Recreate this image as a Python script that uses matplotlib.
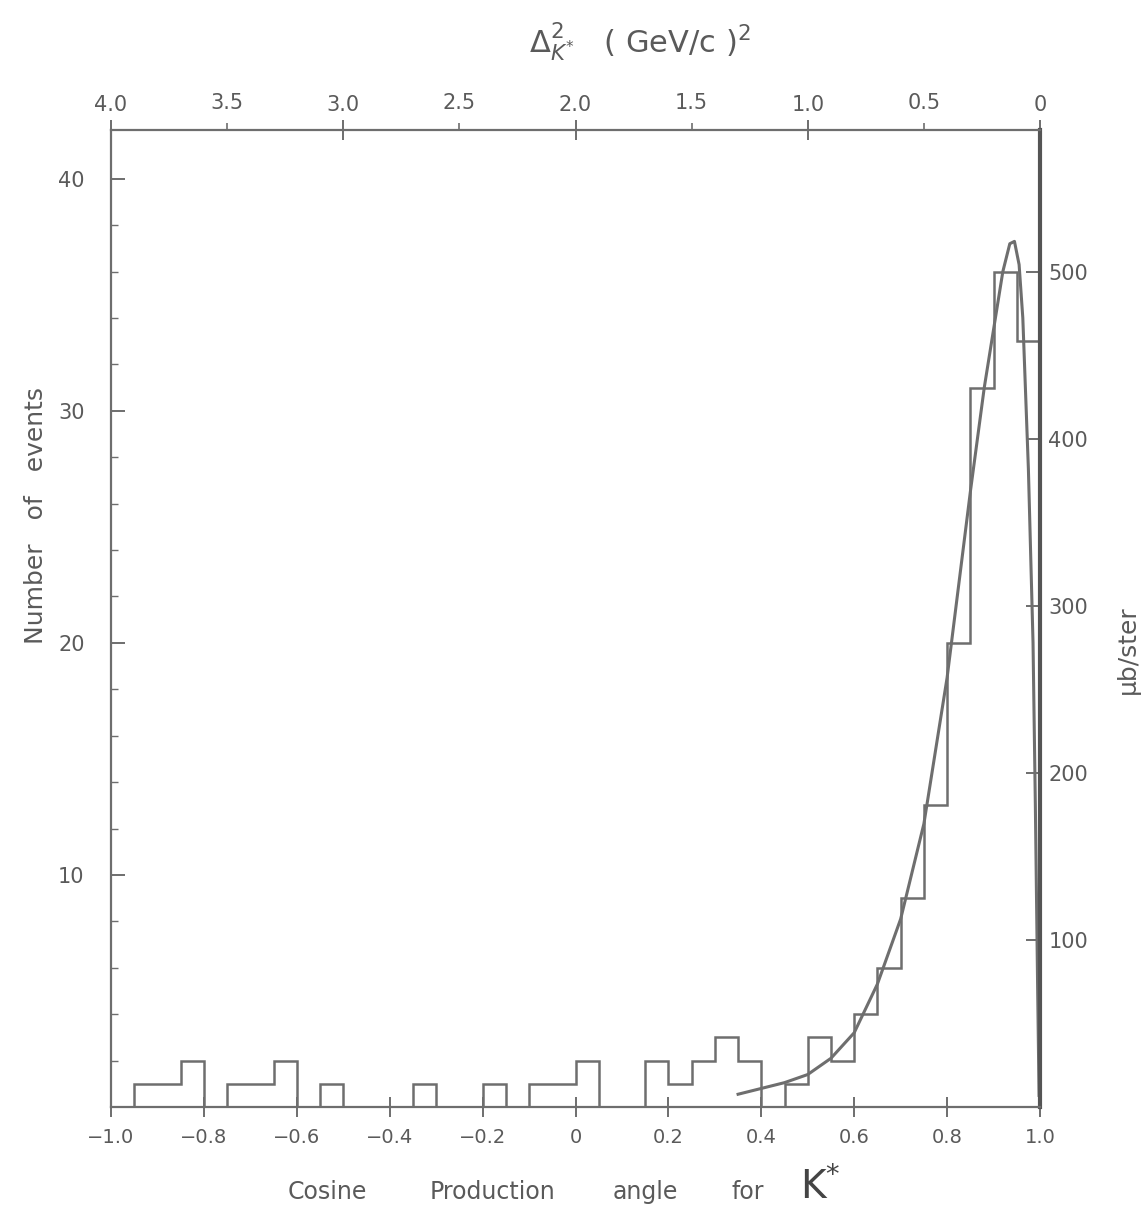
import numpy as np
import matplotlib.pyplot as plt

# K* production angle histogram (events per 0.05 bin in cos theta)
bin_edges = np.linspace(-1.0, 1.0, 41)
counts = [0, 1, 1, 2, 0, 1, 1, 2, 0, 1,
          0, 0, 0, 1, 0, 0, 1, 0, 1, 1,
          2, 0, 0, 2, 1, 2, 3, 2, 0, 1,
          3, 2, 4, 6, 9, 13, 20, 31, 36, 33]

# fitted curve
fit_cos = [0.35, 0.40, 0.45, 0.50, 0.55, 0.60, 0.65, 0.70, 0.75, 0.80, 0.85,
           0.88, 0.90, 0.92, 0.935, 0.945, 0.955, 0.963, 0.975, 0.985, 0.99,
           0.995, 0.998]
fit_events = [0.55, 0.8, 1.05, 1.4, 2.1, 3.2, 5.3, 8.1, 12.2, 18.5, 26.5,
              31.0, 33.5, 36.0, 37.2, 37.3, 36.3, 34.0, 27.5, 20.0, 13.0,
              5.0, 0.5]

x_ticks = [-1.0, -0.8, -0.6, -0.4, -0.2, 0.0, 0.2, 0.4, 0.6, 0.8, 1.0]
x_labels = ["\u22121.0", "\u22120.8", "\u22120.6", "\u22120.4", "\u22120.2", "0",
            "0.2", "0.4", "0.6", "0.8", "1.0"]
y_ticks = [10, 20, 30, 40]
top_major = [4.0, 3.0, 2.0, 1.0, 0.0]
top_major_labels = ["4.0", "3.0", "2.0", "1.0", "0"]
top_minor = [3.5, 2.5, 1.5, 0.5]
top_minor_labels = ["3.5", "2.5", "1.5", "0.5"]
right_ticks = [100, 200, 300, 400, 500]
mub_per_event = 13.9

# words of the bottom title and their centres (px)
title_words = ["Cosine", "Production", "angle", "for"]
title_word_x = [327, 492, 645, 748]

ink = "#6e6e6e"
text_col = "#5a5a5a"
W, H = 1145, 1213


def fx(px):
    return px / W


def fy(py):
    return 1 - py / H


fig = plt.figure(figsize=(W / 100, H / 100), dpi=100)
ax = fig.add_axes([fx(111), fy(1107), fx(1040) - fx(111), fy(130) - fy(1107)])

ax.stairs(counts, bin_edges, color=ink, lw=1.8, baseline=0)
ax.plot(fit_cos, fit_events, color=ink, lw=2.2)

ax.set_xlim(-1.0, 1.0)
ax.set_ylim(0, 42.1)

for s in ["left", "top", "bottom"]:
    ax.spines[s].set_color(ink)
    ax.spines[s].set_linewidth(1.6)
ax.spines["right"].set_color("#555555")
ax.spines["right"].set_linewidth(3.0)

ax.set_xticks(x_ticks)
ax.set_xticklabels(x_labels)
ax.tick_params(axis="x", direction="inout", length=14, width=1.4, color=ink,
               labelsize=14, labelcolor=text_col, pad=8)
ax.set_yticks(y_ticks)
ax.set_yticklabels([str(v) for v in y_ticks])
ax.set_yticks(np.arange(2, 42, 2), minor=True)
ax.tick_params(axis="y", which="major", direction="in", length=10, width=1.4,
               color=ink, labelsize=15, labelcolor=text_col, pad=19)
ax.tick_params(axis="y", which="minor", direction="in", length=5, width=1.0,
               color=ink)

# top axis: momentum transfer
top = ax.secondary_xaxis("top", functions=(lambda c: 2 * (1 - c),
                                           lambda d: 1 - d / 2))
top.set_xticks(top_major)
top.set_xticklabels(top_major_labels)
top.set_xticks(top_minor, minor=True)
top.set_xticklabels(top_minor_labels, minor=True)
top.tick_params(which="major", direction="inout", length=14, width=1.4,
                color=ink, labelsize=15, labelcolor=text_col, pad=4)
top.tick_params(which="minor", direction="out", length=5, width=1.2,
                color=ink, labelsize=15, labelcolor=text_col, pad=7)
top.spines["top"].set_visible(False)

# right axis: cross section
right = ax.secondary_yaxis("right", functions=(lambda y: y * mub_per_event,
                                               lambda m: m / mub_per_event))
right.set_yticks(right_ticks)
right.set_yticklabels([str(v) for v in right_ticks])
right.tick_params(direction="in", length=10, width=1.4, color=ink,
                  labelsize=15, labelcolor=text_col, pad=6)
right.spines["right"].set_visible(False)

fig.text(fx(36), fy(515), "Number   of   events", rotation=90, ha="center",
         va="center", fontsize=18, color=text_col)
fig.text(fx(1128), fy(650), "\u03bcb/ster", rotation=90, ha="center",
         va="center", fontsize=18, color=text_col)
for word, px in zip(title_words, title_word_x):
    fig.text(fx(px), fy(1192), word, ha="center", va="center", fontsize=17,
             color=text_col)
fig.text(fx(800), fy(1186), "K$^{*}$", ha="left", va="center", fontsize=28,
         color="#444444")
fig.text(fx(640), fy(42), r"$\Delta^{2}_{K^{*}}$   ( GeV/c )$^{2}$",
         ha="center", va="center", fontsize=22, color=text_col)

fig.savefig("out.png", dpi=100, facecolor="white")
